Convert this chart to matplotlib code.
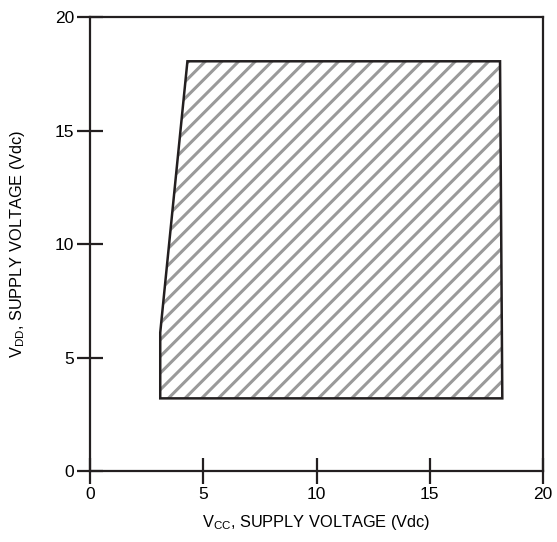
import matplotlib
matplotlib.use('Agg')
import matplotlib.pyplot as plt
from matplotlib.patches import Polygon

plt.rcParams['font.family'] = ['Liberation Sans Narrow', 'Liberation Sans', 'DejaVu Sans']
plt.rcParams['hatch.linewidth'] = 2.2

# operating region outline (Vcc, Vdd)
region_vcc = [3.1, 3.1, 4.3, 18.1, 18.2]
region_vdd = [3.2, 6.1, 18.05, 18.05, 3.2]

x_ticks = [0, 5, 10, 15, 20]
y_ticks = [0, 5, 10, 15, 20]

fig = plt.figure(figsize=(5.57, 5.42), dpi=100)
ax = fig.add_axes([0.1616, 0.131, 0.8134, 0.8376])

pts = list(zip(region_vcc, region_vdd))
# hatch in gray, outline in black
ax.add_patch(Polygon(pts, closed=True, facecolor='white', edgecolor='#9a9a9a',
                     hatch='//', linewidth=0))
ax.add_patch(Polygon(pts, closed=True, fill=False, edgecolor='#231f20',
                     linewidth=1.8, joinstyle='miter'))

ax.set_xlim(0, 20)
ax.set_ylim(0, 20)
ax.set_xticks(x_ticks)
ax.set_yticks(y_ticks)
ax.tick_params(direction='inout', length=19, width=1.6, color='#231f20',
               labelsize=12.5, pad=2)
for s in ax.spines.values():
    s.set_linewidth(1.6)
    s.set_color('#231f20')

ax.set_xlabel(r'V$_{\mathregular{CC}}$, SUPPLY VOLTAGE (Vdc)', fontsize=11.8, labelpad=8)
ax.set_ylabel(r'V$_{\mathregular{DD}}$, SUPPLY VOLTAGE (Vdc)', fontsize=11.8, labelpad=20)

fig.savefig('out.png', dpi=100)
